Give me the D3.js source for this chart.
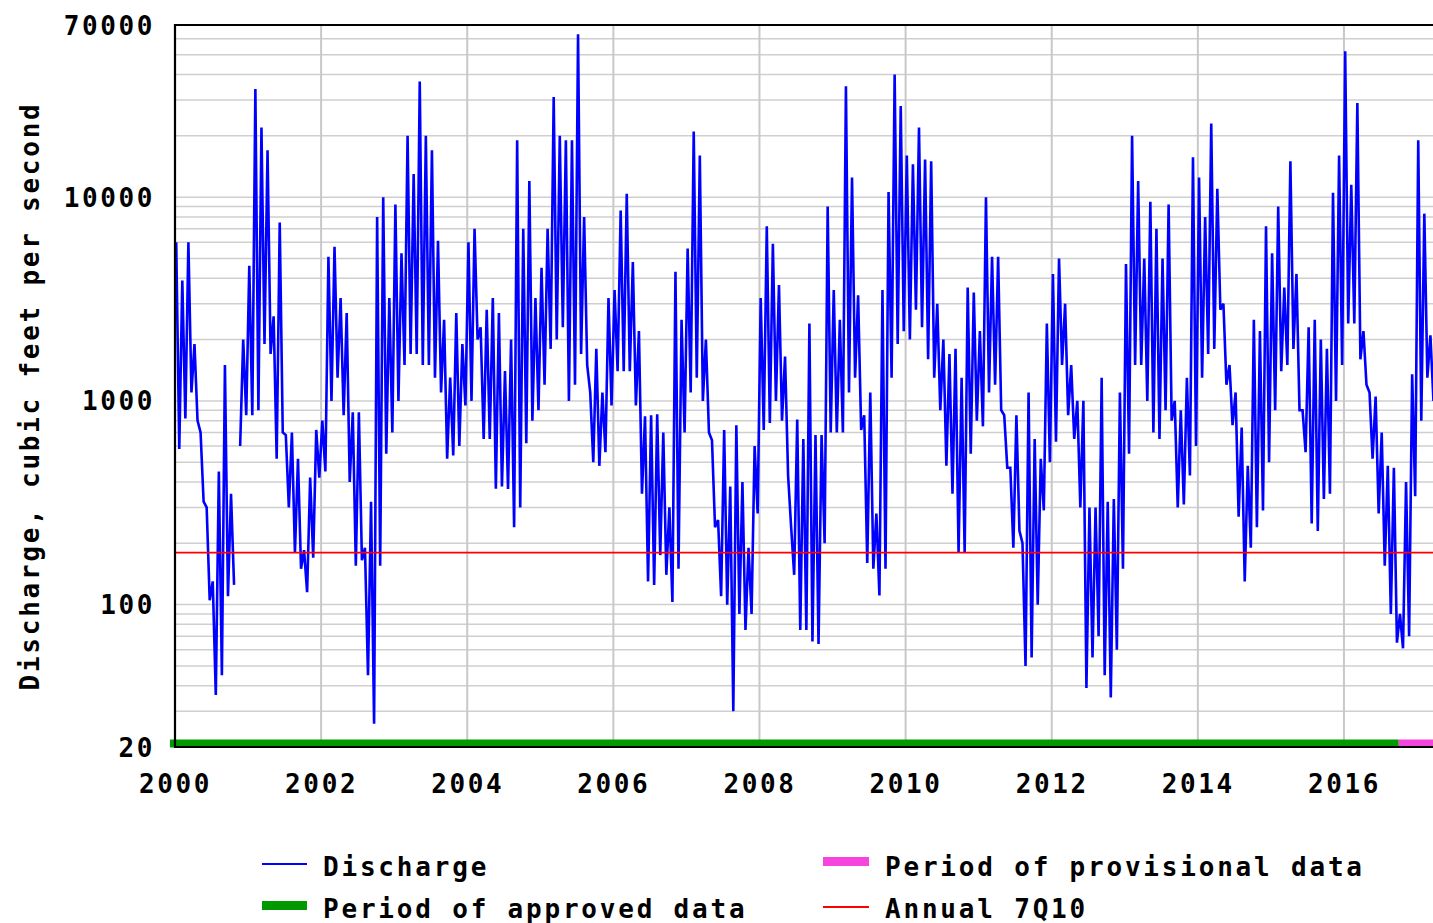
<!DOCTYPE html>
<html>
<head>
<meta charset="utf-8">
<script src="https://cdn.jsdelivr.net/npm/d3@7"></script>
<style>
body { margin: 0; background: #fff; }
svg text { font-family: "DejaVu Sans Mono", monospace; font-weight: bold; fill: #000; }
</style>
</head>
<body>
<svg id="chart" width="1433" height="923"></svg>
<script>
// monthly [high, low] daily discharge, cubic feet per second
var y2000 = [[6000,580],[3900,820],[6000,1100],[1900,800],[700,320],[300,105],[130,36],[450,45],[1500,110],[350,125],[null,600],[2000,850]];
var y2001 = [[4600,850],[34000,900],[22000,1900],[17000,1700],[2600,520],[7500,700],[680,300],[700,180],[520,150],[185,115],[420,170],[720,420]];
var y2002 = [[800,450],[5100,1000],[5700,1300],[3200,850],[2700,400],[880,155],[880,165],[190,45],[320,26],[8000,155],[10000,550],[3200,700]];
var y2003 = [[9200,1000],[5300,1500],[20000,1700],[13000,1700],[37000,1500],[20000,1500],[17000,1300],[6100,1100],[2500,520],[1300,540],[2700,600],[1900,950]];
var y2004 = [[6000,1000],[7000,2000],[2300,650],[2800,650],[3200,370],[2700,380],[1400,370],[2000,240],[19000,300],[7000,620],[12000,800],[3200,900]];
var y2005 = [[4500,1200],[7000,1800],[31000,2000],[20000,2300],[19000,1000],[19000,1200],[63000,1700],[8000,1500],[1100,500],[1800,480],[1100,560],[3200,950]];
var y2006 = [[3500,1400],[8600,1400],[10400,1400],[4800,950],[2200,350],[840,130],[850,125],[860,175],[700,140],[300,103],[4300,150],[2500,700]];
var y2007 = [[5600,1100],[21000,1300],[16000,1000],[2000,700],[640,240],[260,110],[720,100],[380,30],[760,90],[400,75],[190,90],[600,280]];
var y2008 = [[3200,720],[7200,780],[5900,1000],[3700,800],[1650,430],[240,140],[810,75],[650,75],[2400,66],[680,64],[680,200],[9000,700]];
var y2009 = [[3500,700],[2500,700],[35000,1100],[12500,1300],[3300,720],[850,160],[1100,150],[280,111],[3500,150],[10600,1300],[40000,1900],[28000,2200]];
var y2010 = [[16000,2000],[14500,2800],[22000,2300],[15300,1600],[15000,1300],[3000,900],[2000,480],[1700,350],[1800,180],[1300,180],[3600,550],[3400,800]];
var y2011 = [[2200,750],[10000,1100],[5100,1200],[5100,900],[850,470],[470,190],[850,230],[200,50],[1100,55],[650,100],[520,290],[2400,500]];
var y2012 = [[4200,630],[5000,1500],[3000,850],[1500,650],[1000,300],[1000,39],[300,55],[300,70],[1300,45],[320,35],[330,60],[1100,150]];
var y2013 = [[4700,550],[20000,1500],[12000,1500],[5000,1000],[9500,700],[7000,650],[5000,900],[9200,800],[1000,300],[900,310],[1300,430],[15700,600]];
var y2014 = [[12500,1300],[8000,1700],[23000,1800],[11000,2800],[3000,1200],[1500,760],[1100,270],[740,130],[480,190],[2500,240],[2200,290],[7200,500]];
var y2015 = [[5300,900],[9000,1400],[3600,1500],[15000,1800],[4200,900],[900,560],[2300,250],[2500,230],[2000,330],[1800,350],[10500,1000],[16000,1500]];
var y2016 = [[52000,2400],[11500,2400],[29000,1600],[2200,1200],[1100,520],[1050,280],[700,155],[480,90],[470,65],[90,61],[400,70],[1350,340]];
var y2017 = [[19000,800],[8300,1300],[2100,1000]];

var years = [2000,2001,2002,2003,2004,2005,2006,2007,2008,2009,2010,2011,2012,2013,2014,2015,2016,2017];
var monthly = [y2000,y2001,y2002,y2003,y2004,y2005,y2006,y2007,y2008,y2009,y2010,y2011,y2012,y2013,y2014,y2015,y2016,y2017];

var yTicks = [20, 100, 1000, 10000, 70000];
var yGrid = [20,30,40,50,60,70,80,90,100,200,300,400,500,600,700,800,900,1000,2000,3000,4000,5000,6000,7000,8000,9000,10000,20000,30000,40000,50000,60000];
var xTicks = [2000, 2002, 2004, 2006, 2008, 2010, 2012, 2014, 2016];
var approved = [1999.93, 2016.75];
var provisional = [2016.75, 2017.4];
var annual7Q10 = 180;

var svg = d3.select("#chart");
var plotL = 175, plotT = 25, plotB = 747, pxYear = 73.06;

var x = d3.scaleLinear().domain([2000, 2017.4]).range([plotL, plotL + 17.4 * pxYear]);
var y = d3.scaleLog().domain([20, 70000]).range([plotB, plotT]);

// flatten months into points: high in the first half of the month, low in the second
var pts = [];
monthly.forEach(function (yr, i) {
  yr.forEach(function (m, j) {
    pts.push({ t: years[i] + (j + 0.2) / 12, v: m[0] });
    pts.push({ t: years[i] + (j + 0.7) / 12, v: m[1] });
  });
});

svg.append("clipPath").attr("id", "plot")
  .append("rect").attr("x", plotL).attr("y", plotT).attr("width", 1433 - plotL).attr("height", plotB - plotT);

// grid
svg.append("g")
  .selectAll("line").data(yGrid).enter().append("line")
  .attr("x1", plotL).attr("x2", 1433)
  .attr("y1", function (d) { return y(d); }).attr("y2", function (d) { return y(d); })
  .attr("stroke", "#cfcfcf").attr("stroke-width", 1.5);

svg.append("g")
  .selectAll("line").data(xTicks.slice(1)).enter().append("line")
  .attr("x1", function (d) { return x(d); }).attr("x2", function (d) { return x(d); })
  .attr("y1", plotT).attr("y2", plotB)
  .attr("stroke", "#c8c8c8").attr("stroke-width", 2);

// data-period bars
svg.append("rect")
  .attr("x", x(approved[0])).attr("width", x(approved[1]) - x(approved[0]))
  .attr("y", plotB - 7.5).attr("height", 8).attr("fill", "#009a00");
svg.append("rect")
  .attr("x", x(provisional[0])).attr("width", x(provisional[1]) - x(provisional[0]))
  .attr("y", plotB - 7.5).attr("height", 8).attr("fill", "#f545dc");

// discharge
var line = d3.line()
  .defined(function (d) { return d.v != null; })
  .x(function (d) { return x(d.t); })
  .y(function (d) { return y(d.v); });

svg.append("path")
  .datum(pts)
  .attr("clip-path", "url(#plot)")
  .attr("d", line)
  .attr("fill", "none")
  .attr("stroke", "#0000ff")
  .attr("stroke-width", 2.6)
  .attr("stroke-linejoin", "miter")
  .attr("stroke-miterlimit", 2);

// 7Q10
svg.append("line")
  .attr("x1", plotL).attr("x2", 1433)
  .attr("y1", y(annual7Q10)).attr("y2", y(annual7Q10))
  .attr("stroke", "#ff0000").attr("stroke-width", 1.6);

// frame
svg.append("path")
  .attr("d", "M1433," + plotT + "H" + plotL + "V" + plotB + "H1433")
  .attr("fill", "none").attr("stroke", "#000").attr("stroke-width", 2.2);

// axes
var yAxis = d3.axisLeft(y).tickValues(yTicks).tickFormat(d3.format("d")).tickSize(0);
var gy = svg.append("g").attr("transform", "translate(" + plotL + ",0)").call(yAxis);
gy.select(".domain").remove();
gy.selectAll("text")
  .attr("x", -20).attr("dy", "0.35em")
  .style("font-size", "26px").style("letter-spacing", "2.6px");

var xAxis = d3.axisBottom(x).tickValues(xTicks).tickFormat(d3.format("d")).tickSize(0);
var gx = svg.append("g").attr("transform", "translate(0," + plotB + ")").call(xAxis);
gx.select(".domain").remove();
gx.selectAll("text")
  .attr("y", 46).attr("dy", 0).attr("dx", 0)
  .style("font-size", "26px").style("letter-spacing", "2.6px");

svg.selectAll("g text").attr("font-family", null).attr("font-size", null);

svg.append("text")
  .attr("transform", "translate(39,396) rotate(-90)")
  .attr("text-anchor", "middle")
  .style("font-size", "26px").style("letter-spacing", "2.75px")
  .text("Discharge, cubic feet per second");

// legend
var lg = svg.append("g");
lg.append("line").attr("x1", 262).attr("x2", 307).attr("y1", 864).attr("y2", 864)
  .attr("stroke", "#0000ff").attr("stroke-width", 2);
lg.append("rect").attr("x", 262).attr("y", 901).attr("width", 45).attr("height", 9).attr("fill", "#009a00");
lg.append("rect").attr("x", 823).attr("y", 857).attr("width", 46).attr("height", 9).attr("fill", "#f545dc");
lg.append("line").attr("x1", 823).attr("x2", 869).attr("y1", 907).attr("y2", 907)
  .attr("stroke", "#ff0000").attr("stroke-width", 2);

var legendText = [
  ["Discharge", 323, 876],
  ["Period of approved data", 323, 918],
  ["Period of provisional data", 885, 876],
  ["Annual 7Q10", 885, 918]
];
lg.selectAll("text.lt").data(legendText).enter().append("text")
  .attr("class", "lt")
  .attr("x", function (d) { return d[1]; })
  .attr("y", function (d) { return d[2]; })
  .style("font-size", "26px").style("letter-spacing", "2.8px")
  .text(function (d) { return d[0]; });
</script>
</body>
</html>
